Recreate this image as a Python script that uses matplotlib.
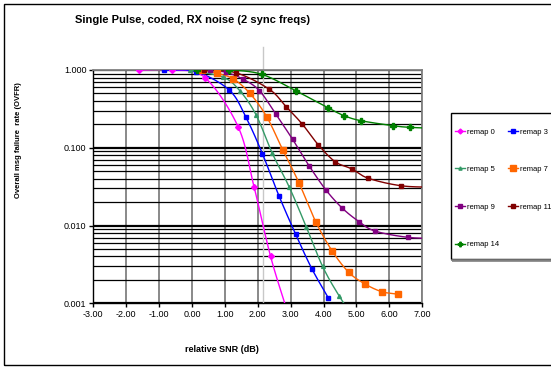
import numpy as np
import matplotlib
matplotlib.use("Agg")
import matplotlib.pyplot as plt
from matplotlib.patches import Rectangle
from matplotlib.lines import Line2D
from matplotlib.ticker import FixedLocator, LogLocator, NullFormatter

plt.rcParams['font.family'] = ['Liberation Sans Narrow', 'Liberation Sans', 'DejaVu Sans']

# data (relative SNR in dB, overall msg failure rate)
labels = ["remap 0", "remap 3", "remap 5", "remap 7", "remap 9", "remap 11", "remap 14"]
x_r0 = [-1.61, -0.61, 0.39, 1.41, 1.89, 2.39, 2.89]
y_r0 = [1.0, 1.0, 0.80, 0.183, 0.031, 0.0040, 0.0008]
x_r3 = [-0.86, 0.12, 1.13, 1.64, 2.14, 2.64, 3.15, 3.64, 4.14]
y_r3 = [1.0, 0.95, 0.553, 0.247, 0.084, 0.0243, 0.00775, 0.0028, 0.00118]
x_r5 = [-0.05, 0.95, 1.46, 1.95, 2.44, 2.96, 3.47, 3.97, 4.47, 4.97]
y_r5 = [1.0, 0.806, 0.537, 0.264, 0.085, 0.031, 0.0097, 0.00298, 0.00125, 0.0006]
x_r7 = [0.31, 0.77, 1.26, 1.76, 2.27, 2.76, 3.25, 3.76, 4.26, 4.77, 5.26, 5.77, 6.27]
y_r7 = [1.0, 0.906, 0.766, 0.501, 0.251, 0.0938, 0.0356, 0.0112, 0.00471, 0.00249, 0.00177, 0.00141, 0.00131]
x_r9 = [0.55, 1.03, 1.56, 2.05, 2.55, 3.06, 3.56, 4.07, 4.57, 5.08, 5.56, 6.57, 7.57]
y_r9 = [0.99, 0.934, 0.76, 0.542, 0.27, 0.128, 0.0586, 0.0287, 0.0167, 0.0112, 0.0085, 0.00705, 0.0068]
x_r11 = [0.35, 1.34, 2.35, 2.86, 3.35, 3.84, 4.35, 4.85, 5.36, 6.35, 7.35]
y_r11 = [1.0, 0.92, 0.565, 0.338, 0.202, 0.109, 0.0662, 0.0536, 0.0405, 0.0325, 0.031]
x_r14 = [0.14, 1.13, 2.12, 3.15, 4.12, 4.63, 5.13, 6.12, 6.63, 7.63]
y_r14 = [1.0, 1.0, 0.88, 0.542, 0.328, 0.258, 0.223, 0.192, 0.183, 0.176]

xs = [x_r0, x_r3, x_r5, x_r7, x_r9, x_r11, x_r14]
ys = [y_r0, y_r3, y_r5, y_r7, y_r9, y_r11, y_r14]
colors = ["#FF00FF", "#0000FF", "#339966", "#FF6600", "#800080", "#800000", "#008000"]
markers = ["D", "s", "^", "s", "s", "s", "P"]
msizes = [3, 3.2, 2.8, 4.2, 2.8, 2.8, 3.8]


def smooth(x, y, n=20):
    # catmull-rom through the points, in log space like Excel's smoothed line
    x = np.asarray(x, float)
    ly = np.log10(np.asarray(y, float))
    px = np.concatenate([[2 * x[0] - x[1]], x, [2 * x[-1] - x[-2]]])
    py = np.concatenate([[2 * ly[0] - ly[1]], ly, [2 * ly[-1] - ly[-2]]])
    ox, oy = [], []
    t = np.linspace(0, 1, n, endpoint=False)
    for i in range(1, len(px) - 2):
        for p, o in ((px, ox), (py, oy)):
            p0, p1, p2, p3 = p[i - 1], p[i], p[i + 1], p[i + 2]
            o.extend(0.5 * (2 * p1 + (-p0 + p2) * t + (2 * p0 - 5 * p1 + 4 * p2 - p3) * t ** 2
                            + (-p0 + 3 * p1 - 3 * p2 + p3) * t ** 3))
    ox.append(x[-1])
    oy.append(ly[-1])
    return np.array(ox), 10 ** np.array(oy)


fig = plt.figure(figsize=(5.51, 3.68), dpi=100)
ax = fig.add_axes([0.1693, 0.1758, 0.5971, 0.634])

handles = []
for x, y, c, m, ms, lab in zip(xs, ys, colors, markers, msizes, labels):
    sx, sy = smooth(x, y)
    ax.plot(sx, sy, color=c, lw=1.0, zorder=3)
    ax.plot(x, y, ls="none", marker=m, ms=ms, color=c, mec=c, zorder=4)
    handles.append(Line2D([], [], color=c, lw=1.0, marker=m, ms=ms - 0.5, mec=c, label=lab))

ax.set_yscale("log")
ax.set_xlim(-3, 7)
ax.set_ylim(0.001, 1.0)
ax.set_xticks(np.arange(-3, 8, 1))
ax.set_xticklabels(["%.2f" % v for v in np.arange(-3, 8, 1)], fontsize=6.5)
ax.yaxis.set_major_locator(FixedLocator([0.001, 0.01, 0.1, 1.0]))
ax.set_yticklabels(["0.001", "0.010", "0.100", "1.000"], fontsize=6.5)
ax.yaxis.set_minor_locator(LogLocator(base=10, subs=np.arange(2, 10)))
ax.yaxis.set_minor_formatter(NullFormatter())
ax.tick_params(axis="both", which="major", direction="out", length=3, width=1, pad=2)
ax.tick_params(axis="y", which="minor", length=0)

ax.grid(True, axis="x", which="major", color="#808080", lw=1.3, zorder=1)
ax.grid(True, axis="y", which="major", color="black", lw=1.6, zorder=1)
ax.grid(True, axis="y", which="minor", color="black", lw=0.9, zorder=1)
for s in ["top", "right"]:
    ax.spines[s].set_color("#808080")
    ax.spines[s].set_linewidth(1.3)
for s in ["left", "bottom"]:
    ax.spines[s].set_color("black")
    ax.spines[s].set_linewidth(1.0)

# stray light grey marker line around 2.17 dB
ax.axvline(2.17, ymin=0, ymax=1.097, color="#c8c8c8", lw=1.0, clip_on=False, zorder=2)

fig.text(75 / 551, 1 - 20 / 368, "Single Pulse, coded, RX noise (2 sync freqs)",
         fontsize=8, fontweight="bold", ha="left", va="center")
fig.text(222 / 551, 1 - 350 / 368, "relative SNR (dB)", fontsize=6.5, fontweight="bold",
         ha="center", va="center")
fig.text(19 / 551, 1 - 140 / 368, "Overall msg failure  rate (OVFR)", fontsize=5.5,
         fontweight="bold", rotation=90, ha="center", va="center")

# legend box drawn separately, legend entries placed inside
fig.patches.append(Rectangle((451 / 551, 1 - 259 / 368), 0.3, 146 / 368, transform=fig.transFigure,
                             fill=False, edgecolor="black", lw=1.0, zorder=5))
fig.patches.append(Rectangle((452 / 551, 1 - 260.5 / 368), 0.3, 0.001, transform=fig.transFigure,
                             fill=False, edgecolor="#808080", lw=1.2, zorder=5))
order = [0, 2, 4, 6, 1, 3, 5]
leg = fig.legend([handles[i] for i in order], [labels[i] for i in order], ncol=2,
                 loc="upper left", bbox_to_anchor=(453 / 551, 1 - 126 / 368),
                 fontsize=5.5, frameon=False,
                 labelspacing=3.95, handlelength=1.3, handletextpad=0.2,
                 columnspacing=1.2, borderpad=0.3, borderaxespad=0)

fig.patches.append(Rectangle((4 / 551, 3 / 368), 1.0, 1 - 7 / 368, transform=fig.transFigure,
                             fill=False, edgecolor="black", lw=1.0))

fig.savefig("out.png", dpi=100)
